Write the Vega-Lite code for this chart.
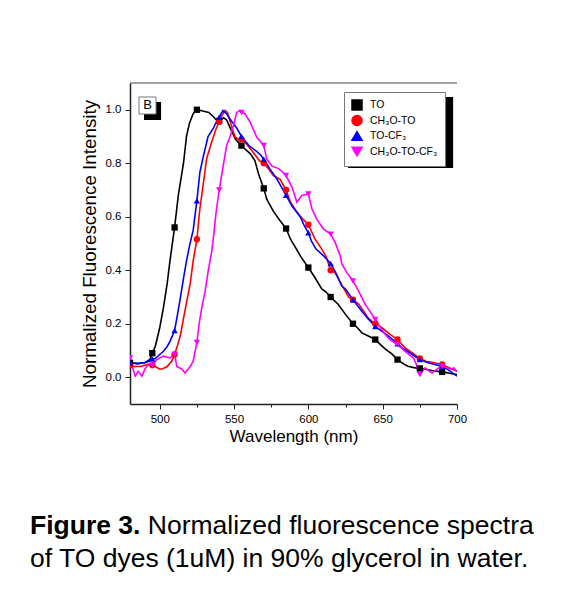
{
  "$schema": "https://vega.github.io/schema/vega-lite/v6.json",
  "width": 327,
  "height": 321,
  "padding": {"left": 30, "top": 82, "right": 5, "bottom": 5},
  "background": "white",
  "title": {
    "text": "Figure 3.",
    "subtitle": ["\u200b\u00a0\u00a0\u00a0\u00a0\u00a0\u00a0\u00a0\u00a0\u00a0\u00a0\u00a0\u00a0\u00a0\u00a0\u00a0\u00a0Normalized fluorescence spectra", "of TO dyes (1uM) in 90% glycerol in water."],
    "orient": "bottom",
    "anchor": "start",
    "frame": "group",
    "dx": -100,
    "offset": 68,
    "font": "Liberation Sans",
    "fontSize": 26.5,
    "fontWeight": "bold",
    "color": "black",
    "subtitleFont": "Liberation Sans",
    "subtitleFontSize": 26.5,
    "subtitleFontWeight": "normal",
    "subtitleColor": "black",
    "subtitlePadding": -26.5,
    "subtitleLineHeight": 33
  },
  "config": {
    "view": {"stroke": null},
    "font": "Liberation Sans"
  },
  "datasets": {
    "spectra": [
      {"series": "TO", "wl": 480, "val": 0.054}, {"series": "TO", "wl": 485, "val": 0.052}, {"series": "TO", "wl": 490, "val": 0.054}, {"series": "TO", "wl": 493, "val": 0.06}, {"series": "TO", "wl": 495, "val": 0.09}, {"series": "TO", "wl": 497, "val": 0.115}, {"series": "TO", "wl": 500, "val": 0.185}, {"series": "TO", "wl": 502.5, "val": 0.26}, {"series": "TO", "wl": 505, "val": 0.35}, {"series": "TO", "wl": 507, "val": 0.44}, {"series": "TO", "wl": 510, "val": 0.56}, {"series": "TO", "wl": 512.5, "val": 0.68}, {"series": "TO", "wl": 516, "val": 0.8}, {"series": "TO", "wl": 518, "val": 0.9}, {"series": "TO", "wl": 520, "val": 0.95}, {"series": "TO", "wl": 522.5, "val": 0.985}, {"series": "TO", "wl": 525, "val": 1.0}, {"series": "TO", "wl": 529, "val": 0.995}, {"series": "TO", "wl": 533, "val": 0.99}, {"series": "TO", "wl": 536, "val": 0.975}, {"series": "TO", "wl": 538, "val": 0.962}, {"series": "TO", "wl": 540, "val": 0.958}, {"series": "TO", "wl": 543, "val": 0.97}, {"series": "TO", "wl": 545, "val": 0.962}, {"series": "TO", "wl": 548, "val": 0.925}, {"series": "TO", "wl": 551, "val": 0.89}, {"series": "TO", "wl": 555, "val": 0.866}, {"series": "TO", "wl": 558, "val": 0.85}, {"series": "TO", "wl": 561, "val": 0.835}, {"series": "TO", "wl": 564, "val": 0.81}, {"series": "TO", "wl": 566.5, "val": 0.76}, {"series": "TO", "wl": 570, "val": 0.706}, {"series": "TO", "wl": 572, "val": 0.666}, {"series": "TO", "wl": 576.5, "val": 0.62}, {"series": "TO", "wl": 581, "val": 0.585}, {"series": "TO", "wl": 585, "val": 0.556}, {"series": "TO", "wl": 588, "val": 0.516}, {"series": "TO", "wl": 592, "val": 0.479}, {"series": "TO", "wl": 595, "val": 0.45}, {"series": "TO", "wl": 600, "val": 0.41}, {"series": "TO", "wl": 604.5, "val": 0.372}, {"series": "TO", "wl": 609, "val": 0.33}, {"series": "TO", "wl": 612, "val": 0.318}, {"series": "TO", "wl": 615, "val": 0.3}, {"series": "TO", "wl": 620, "val": 0.273}, {"series": "TO", "wl": 625, "val": 0.235}, {"series": "TO", "wl": 630, "val": 0.2}, {"series": "TO", "wl": 633, "val": 0.185}, {"series": "TO", "wl": 636, "val": 0.166}, {"series": "TO", "wl": 640, "val": 0.155}, {"series": "TO", "wl": 645, "val": 0.141}, {"series": "TO", "wl": 648, "val": 0.125}, {"series": "TO", "wl": 652, "val": 0.104}, {"series": "TO", "wl": 656, "val": 0.088}, {"series": "TO", "wl": 660, "val": 0.066}, {"series": "TO", "wl": 664, "val": 0.05}, {"series": "TO", "wl": 667, "val": 0.041}, {"series": "TO", "wl": 671, "val": 0.036}, {"series": "TO", "wl": 675, "val": 0.033}, {"series": "TO", "wl": 679, "val": 0.03}, {"series": "TO", "wl": 683, "val": 0.025}, {"series": "TO", "wl": 687, "val": 0.022}, {"series": "TO", "wl": 690, "val": 0.02}, {"series": "TO", "wl": 695, "val": 0.015}, {"series": "TO", "wl": 700, "val": 0.01},

      {"series": "CH₃O-TO", "wl": 480, "val": 0.045}, {"series": "CH₃O-TO", "wl": 483, "val": 0.04}, {"series": "CH₃O-TO", "wl": 487, "val": 0.04}, {"series": "CH₃O-TO", "wl": 492, "val": 0.048}, {"series": "CH₃O-TO", "wl": 495, "val": 0.045}, {"series": "CH₃O-TO", "wl": 497, "val": 0.04}, {"series": "CH₃O-TO", "wl": 500, "val": 0.03}, {"series": "CH₃O-TO", "wl": 502, "val": 0.032}, {"series": "CH₃O-TO", "wl": 505, "val": 0.04}, {"series": "CH₃O-TO", "wl": 508, "val": 0.06}, {"series": "CH₃O-TO", "wl": 510, "val": 0.085}, {"series": "CH₃O-TO", "wl": 512, "val": 0.12}, {"series": "CH₃O-TO", "wl": 514, "val": 0.16}, {"series": "CH₃O-TO", "wl": 517, "val": 0.25}, {"series": "CH₃O-TO", "wl": 520.5, "val": 0.35}, {"series": "CH₃O-TO", "wl": 522.5, "val": 0.435}, {"series": "CH₃O-TO", "wl": 525, "val": 0.516}, {"series": "CH₃O-TO", "wl": 527, "val": 0.63}, {"series": "CH₃O-TO", "wl": 529.5, "val": 0.73}, {"series": "CH₃O-TO", "wl": 531.5, "val": 0.816}, {"series": "CH₃O-TO", "wl": 535, "val": 0.88}, {"series": "CH₃O-TO", "wl": 538, "val": 0.93}, {"series": "CH₃O-TO", "wl": 540, "val": 0.955}, {"series": "CH₃O-TO", "wl": 542, "val": 0.98}, {"series": "CH₃O-TO", "wl": 544, "val": 0.997}, {"series": "CH₃O-TO", "wl": 545.5, "val": 0.99}, {"series": "CH₃O-TO", "wl": 547.5, "val": 0.954}, {"series": "CH₃O-TO", "wl": 550.5, "val": 0.9}, {"series": "CH₃O-TO", "wl": 553, "val": 0.888}, {"series": "CH₃O-TO", "wl": 555, "val": 0.89}, {"series": "CH₃O-TO", "wl": 558, "val": 0.875}, {"series": "CH₃O-TO", "wl": 563, "val": 0.84}, {"series": "CH₃O-TO", "wl": 567, "val": 0.81}, {"series": "CH₃O-TO", "wl": 570, "val": 0.8}, {"series": "CH₃O-TO", "wl": 573, "val": 0.78}, {"series": "CH₃O-TO", "wl": 576.5, "val": 0.754}, {"series": "CH₃O-TO", "wl": 581, "val": 0.74}, {"series": "CH₃O-TO", "wl": 585, "val": 0.7}, {"series": "CH₃O-TO", "wl": 588, "val": 0.654}, {"series": "CH₃O-TO", "wl": 592, "val": 0.62}, {"series": "CH₃O-TO", "wl": 596.5, "val": 0.59}, {"series": "CH₃O-TO", "wl": 600, "val": 0.57}, {"series": "CH₃O-TO", "wl": 604.5, "val": 0.516}, {"series": "CH₃O-TO", "wl": 609, "val": 0.479}, {"series": "CH₃O-TO", "wl": 612, "val": 0.45}, {"series": "CH₃O-TO", "wl": 615, "val": 0.4}, {"series": "CH₃O-TO", "wl": 618, "val": 0.39}, {"series": "CH₃O-TO", "wl": 622, "val": 0.35}, {"series": "CH₃O-TO", "wl": 627, "val": 0.3}, {"series": "CH₃O-TO", "wl": 630, "val": 0.29}, {"series": "CH₃O-TO", "wl": 634, "val": 0.273}, {"series": "CH₃O-TO", "wl": 640.5, "val": 0.22}, {"series": "CH₃O-TO", "wl": 645, "val": 0.2}, {"series": "CH₃O-TO", "wl": 649.5, "val": 0.185}, {"series": "CH₃O-TO", "wl": 655, "val": 0.16}, {"series": "CH₃O-TO", "wl": 660, "val": 0.141}, {"series": "CH₃O-TO", "wl": 665, "val": 0.11}, {"series": "CH₃O-TO", "wl": 670, "val": 0.091}, {"series": "CH₃O-TO", "wl": 675, "val": 0.07}, {"series": "CH₃O-TO", "wl": 679, "val": 0.06}, {"series": "CH₃O-TO", "wl": 684, "val": 0.055}, {"series": "CH₃O-TO", "wl": 690, "val": 0.048}, {"series": "CH₃O-TO", "wl": 695, "val": 0.035}, {"series": "CH₃O-TO", "wl": 700, "val": 0.022},

      {"series": "TO-CF₃", "wl": 480, "val": 0.054}, {"series": "TO-CF₃", "wl": 485, "val": 0.05}, {"series": "TO-CF₃", "wl": 490, "val": 0.055}, {"series": "TO-CF₃", "wl": 493.5, "val": 0.067}, {"series": "TO-CF₃", "wl": 495, "val": 0.068}, {"series": "TO-CF₃", "wl": 497, "val": 0.07}, {"series": "TO-CF₃", "wl": 500, "val": 0.085}, {"series": "TO-CF₃", "wl": 502.5, "val": 0.097}, {"series": "TO-CF₃", "wl": 505, "val": 0.115}, {"series": "TO-CF₃", "wl": 507, "val": 0.135}, {"series": "TO-CF₃", "wl": 510, "val": 0.175}, {"series": "TO-CF₃", "wl": 511.5, "val": 0.22}, {"series": "TO-CF₃", "wl": 513.5, "val": 0.285}, {"series": "TO-CF₃", "wl": 516, "val": 0.37}, {"series": "TO-CF₃", "wl": 518, "val": 0.435}, {"series": "TO-CF₃", "wl": 520, "val": 0.49}, {"series": "TO-CF₃", "wl": 522.5, "val": 0.55}, {"series": "TO-CF₃", "wl": 525, "val": 0.66}, {"series": "TO-CF₃", "wl": 527, "val": 0.766}, {"series": "TO-CF₃", "wl": 529.5, "val": 0.83}, {"series": "TO-CF₃", "wl": 532.5, "val": 0.9}, {"series": "TO-CF₃", "wl": 536, "val": 0.93}, {"series": "TO-CF₃", "wl": 539.5, "val": 0.97}, {"series": "TO-CF₃", "wl": 540, "val": 0.972}, {"series": "TO-CF₃", "wl": 542.5, "val": 0.997}, {"series": "TO-CF₃", "wl": 545, "val": 0.985}, {"series": "TO-CF₃", "wl": 548, "val": 0.96}, {"series": "TO-CF₃", "wl": 552, "val": 0.93}, {"series": "TO-CF₃", "wl": 555, "val": 0.9}, {"series": "TO-CF₃", "wl": 560, "val": 0.866}, {"series": "TO-CF₃", "wl": 565, "val": 0.845}, {"series": "TO-CF₃", "wl": 568, "val": 0.83}, {"series": "TO-CF₃", "wl": 570, "val": 0.815}, {"series": "TO-CF₃", "wl": 574, "val": 0.78}, {"series": "TO-CF₃", "wl": 579, "val": 0.74}, {"series": "TO-CF₃", "wl": 582, "val": 0.71}, {"series": "TO-CF₃", "wl": 585, "val": 0.68}, {"series": "TO-CF₃", "wl": 589, "val": 0.64}, {"series": "TO-CF₃", "wl": 594.5, "val": 0.6}, {"series": "TO-CF₃", "wl": 597, "val": 0.57}, {"series": "TO-CF₃", "wl": 600, "val": 0.54}, {"series": "TO-CF₃", "wl": 602, "val": 0.51}, {"series": "TO-CF₃", "wl": 605, "val": 0.48}, {"series": "TO-CF₃", "wl": 610, "val": 0.455}, {"series": "TO-CF₃", "wl": 615, "val": 0.425}, {"series": "TO-CF₃", "wl": 619, "val": 0.385}, {"series": "TO-CF₃", "wl": 622.5, "val": 0.34}, {"series": "TO-CF₃", "wl": 625, "val": 0.33}, {"series": "TO-CF₃", "wl": 630, "val": 0.29}, {"series": "TO-CF₃", "wl": 636, "val": 0.247}, {"series": "TO-CF₃", "wl": 640, "val": 0.22}, {"series": "TO-CF₃", "wl": 645, "val": 0.19}, {"series": "TO-CF₃", "wl": 650, "val": 0.17}, {"series": "TO-CF₃", "wl": 654, "val": 0.154}, {"series": "TO-CF₃", "wl": 660, "val": 0.125}, {"series": "TO-CF₃", "wl": 663, "val": 0.11}, {"series": "TO-CF₃", "wl": 670, "val": 0.085}, {"series": "TO-CF₃", "wl": 675, "val": 0.066}, {"series": "TO-CF₃", "wl": 680, "val": 0.055}, {"series": "TO-CF₃", "wl": 685, "val": 0.048}, {"series": "TO-CF₃", "wl": 690, "val": 0.04}, {"series": "TO-CF₃", "wl": 692, "val": 0.035}, {"series": "TO-CF₃", "wl": 696, "val": 0.02}, {"series": "TO-CF₃", "wl": 700, "val": 0.004},

      {"series": "CH₃O-TO-CF₃", "wl": 480, "val": 0.072}, {"series": "CH₃O-TO-CF₃", "wl": 481.5, "val": 0.04}, {"series": "CH₃O-TO-CF₃", "wl": 483.5, "val": 0.004}, {"series": "CH₃O-TO-CF₃", "wl": 485.5, "val": 0.022}, {"series": "CH₃O-TO-CF₃", "wl": 488, "val": 0.004}, {"series": "CH₃O-TO-CF₃", "wl": 490, "val": 0.03}, {"series": "CH₃O-TO-CF₃", "wl": 492.3, "val": 0.048}, {"series": "CH₃O-TO-CF₃", "wl": 495, "val": 0.045}, {"series": "CH₃O-TO-CF₃", "wl": 498, "val": 0.066}, {"series": "CH₃O-TO-CF₃", "wl": 502.5, "val": 0.079}, {"series": "CH₃O-TO-CF₃", "wl": 507, "val": 0.072}, {"series": "CH₃O-TO-CF₃", "wl": 510, "val": 0.085}, {"series": "CH₃O-TO-CF₃", "wl": 511.5, "val": 0.04}, {"series": "CH₃O-TO-CF₃", "wl": 515, "val": 0.03}, {"series": "CH₃O-TO-CF₃", "wl": 517, "val": 0.016}, {"series": "CH₃O-TO-CF₃", "wl": 520.5, "val": 0.04}, {"series": "CH₃O-TO-CF₃", "wl": 522.5, "val": 0.06}, {"series": "CH₃O-TO-CF₃", "wl": 525, "val": 0.13}, {"series": "CH₃O-TO-CF₃", "wl": 526.5, "val": 0.2}, {"series": "CH₃O-TO-CF₃", "wl": 528.3, "val": 0.26}, {"series": "CH₃O-TO-CF₃", "wl": 530.5, "val": 0.32}, {"series": "CH₃O-TO-CF₃", "wl": 532.7, "val": 0.4}, {"series": "CH₃O-TO-CF₃", "wl": 535, "val": 0.47}, {"series": "CH₃O-TO-CF₃", "wl": 536, "val": 0.516}, {"series": "CH₃O-TO-CF₃", "wl": 538, "val": 0.62}, {"series": "CH₃O-TO-CF₃", "wl": 540, "val": 0.7}, {"series": "CH₃O-TO-CF₃", "wl": 543, "val": 0.8}, {"series": "CH₃O-TO-CF₃", "wl": 545, "val": 0.866}, {"series": "CH₃O-TO-CF₃", "wl": 547.3, "val": 0.9}, {"series": "CH₃O-TO-CF₃", "wl": 549.6, "val": 0.94}, {"series": "CH₃O-TO-CF₃", "wl": 551.8, "val": 0.99}, {"series": "CH₃O-TO-CF₃", "wl": 554, "val": 0.997}, {"series": "CH₃O-TO-CF₃", "wl": 555, "val": 0.99}, {"series": "CH₃O-TO-CF₃", "wl": 557.4, "val": 0.985}, {"series": "CH₃O-TO-CF₃", "wl": 560.8, "val": 0.954}, {"series": "CH₃O-TO-CF₃", "wl": 565.3, "val": 0.897}, {"series": "CH₃O-TO-CF₃", "wl": 570, "val": 0.866}, {"series": "CH₃O-TO-CF₃", "wl": 572, "val": 0.816}, {"series": "CH₃O-TO-CF₃", "wl": 575.4, "val": 0.79}, {"series": "CH₃O-TO-CF₃", "wl": 580, "val": 0.78}, {"series": "CH₃O-TO-CF₃", "wl": 582, "val": 0.77}, {"series": "CH₃O-TO-CF₃", "wl": 585, "val": 0.754}, {"series": "CH₃O-TO-CF₃", "wl": 589, "val": 0.71}, {"series": "CH₃O-TO-CF₃", "wl": 592.3, "val": 0.654}, {"series": "CH₃O-TO-CF₃", "wl": 595.6, "val": 0.68}, {"series": "CH₃O-TO-CF₃", "wl": 600, "val": 0.685}, {"series": "CH₃O-TO-CF₃", "wl": 602.4, "val": 0.63}, {"series": "CH₃O-TO-CF₃", "wl": 605.7, "val": 0.59}, {"series": "CH₃O-TO-CF₃", "wl": 610.2, "val": 0.554}, {"series": "CH₃O-TO-CF₃", "wl": 615, "val": 0.535}, {"series": "CH₃O-TO-CF₃", "wl": 618, "val": 0.504}, {"series": "CH₃O-TO-CF₃", "wl": 621.4, "val": 0.454}, {"series": "CH₃O-TO-CF₃", "wl": 622.6, "val": 0.423}, {"series": "CH₃O-TO-CF₃", "wl": 626, "val": 0.39}, {"series": "CH₃O-TO-CF₃", "wl": 630, "val": 0.36}, {"series": "CH₃O-TO-CF₃", "wl": 633.8, "val": 0.322}, {"series": "CH₃O-TO-CF₃", "wl": 638.2, "val": 0.273}, {"series": "CH₃O-TO-CF₃", "wl": 641, "val": 0.25}, {"series": "CH₃O-TO-CF₃", "wl": 645, "val": 0.216}, {"series": "CH₃O-TO-CF₃", "wl": 648, "val": 0.19}, {"series": "CH₃O-TO-CF₃", "wl": 651.7, "val": 0.16}, {"series": "CH₃O-TO-CF₃", "wl": 655, "val": 0.14}, {"series": "CH₃O-TO-CF₃", "wl": 660, "val": 0.122}, {"series": "CH₃O-TO-CF₃", "wl": 666.3, "val": 0.091}, {"series": "CH₃O-TO-CF₃", "wl": 670.8, "val": 0.072}, {"series": "CH₃O-TO-CF₃", "wl": 672.5, "val": 0.05}, {"series": "CH₃O-TO-CF₃", "wl": 674.1, "val": 0.022}, {"series": "CH₃O-TO-CF₃", "wl": 675, "val": 0.01}, {"series": "CH₃O-TO-CF₃", "wl": 678.6, "val": 0.035}, {"series": "CH₃O-TO-CF₃", "wl": 681, "val": 0.025}, {"series": "CH₃O-TO-CF₃", "wl": 683.2, "val": 0.016}, {"series": "CH₃O-TO-CF₃", "wl": 687.6, "val": 0.035}, {"series": "CH₃O-TO-CF₃", "wl": 690, "val": 0.041}, {"series": "CH₃O-TO-CF₃", "wl": 692, "val": 0.038}, {"series": "CH₃O-TO-CF₃", "wl": 695.5, "val": 0.03}, {"series": "CH₃O-TO-CF₃", "wl": 698, "val": 0.035}, {"series": "CH₃O-TO-CF₃", "wl": 700, "val": 0.022}
    ]
  },
  "layer": [
    {
      "data": {"name": "spectra"},
      "mark": {"type": "line", "strokeWidth": 1.6, "clip": true},
      "encoding": {
        "x": {
          "field": "wl", "type": "quantitative",
          "scale": {"domain": [480, 700], "nice": false, "zero": false},
          "axis": {
            "values": [500, 525, 550, 575, 600, 625, 650, 675, 700],
            "labelExpr": "datum.value % 50 === 0 ? datum.label : ''",
            "tickSize": {"condition": {"test": "datum.value % 50 === 0", "value": 5}, "value": 3},
            "title": "Wavelength (nm)",
            "grid": false,
            "labelFont": "Liberation Sans", "labelFontSize": 11.5, "labelPadding": 4, "labelColor": "black",
            "labelFlush": false, "labelOverlap": false,
            "titleFont": "Liberation Sans", "titleFontSize": 17, "titleFontWeight": "normal", "titlePadding": 4, "titleColor": "black",
            "domainColor": "#222222", "domainWidth": 1.5, "tickColor": "#222222", "tickWidth": 1
          }
        },
        "y": {
          "field": "val", "type": "quantitative",
          "scale": {"domain": [-0.1, 1.1], "nice": false, "zero": false},
          "axis": {
            "values": [0, 0.1, 0.2, 0.3, 0.4, 0.5, 0.6, 0.7, 0.8, 0.9, 1.0],
            "labelExpr": "(datum.value * 10 % 2 < 0.5 || datum.value * 10 % 2 > 1.5) ? format(datum.value, '.1f') : ''",
            "tickSize": {"condition": {"test": "datum.value * 10 % 2 < 0.5 || datum.value * 10 % 2 > 1.5", "value": 5}, "value": 3},
            "title": "Normalized Fluorescence Intensity",
            "grid": false,
            "labelFont": "Liberation Sans", "labelFontSize": 11.5, "labelPadding": 4, "labelColor": "black",
            "labelFlush": false, "labelOverlap": false,
            "titleFont": "Liberation Sans", "titleFontSize": 18.8, "titleFontWeight": "normal", "titlePadding": 6, "titleColor": "black",
            "domainColor": "#222222", "domainWidth": 1.5, "tickColor": "#222222", "tickWidth": 1
          }
        },
        "color": {
          "field": "series", "type": "nominal",
          "scale": {"domain": ["TO", "CH₃O-TO", "TO-CF₃", "CH₃O-TO-CF₃"], "range": ["#000000", "#ff0000", "#0000ff", "#ff00ff"]}
        }
      }
    },
    {
      "data": {"name": "spectra"},
      "transform": [{"filter": "datum.wl % 15 === 0"}],
      "mark": {"type": "point", "filled": true, "size": 40, "opacity": 1, "clip": true},
      "encoding": {
        "x": {"field": "wl", "type": "quantitative"},
        "y": {"field": "val", "type": "quantitative"},
        "color": {
          "field": "series", "type": "nominal",
          "legend": {
            "orient": "none", "legendX": 214, "legendY": 9, "title": null,
            "symbolSize": 100, "symbolStrokeWidth": 1.5, "labelFont": "Liberation Sans", "labelFontSize": 10.5, "labelColor": "black",
            "labelOffset": 7, "rowPadding": -0.5, "padding": 7, "strokeColor": "#777777", "fillColor": "white"
          }
        },
        "shape": {
          "field": "series", "type": "nominal",
          "scale": {"domain": ["TO", "CH₃O-TO", "TO-CF₃", "CH₃O-TO-CF₃"], "range": ["square", "circle", "triangle-up", "triangle-down"]},
          "legend": {
            "orient": "none", "legendX": 214, "legendY": 9, "title": null,
            "symbolSize": 100, "symbolStrokeWidth": 1.5, "labelFont": "Liberation Sans", "labelFontSize": 10.5, "labelColor": "black",
            "labelOffset": 7, "rowPadding": -0.5, "padding": 7, "strokeColor": "#777777", "fillColor": "white"
          }
        }
      }
    },
    {
      "data": {"values": [{}]},
      "mark": {"type": "rule", "color": "#444444", "strokeWidth": 1},
      "encoding": {"y": {"datum": 1.1, "type": "quantitative"}}
    },
    {
      "data": {"values": [{}]},
      "mark": {"type": "rect", "color": "black"},
      "encoding": {
        "x": {"datum": 626.7, "type": "quantitative"}, "x2": {"datum": 697.4},
        "y": {"datum": 1.0477, "type": "quantitative"}, "y2": {"datum": 0.782}
      }
    },
    {
      "data": {"values": [{}]},
      "mark": {"type": "rect", "color": "black"},
      "encoding": {
        "x": {"datum": 489.4, "type": "quantitative"}, "x2": {"datum": 500.9},
        "y": {"datum": 1.029, "type": "quantitative"}, "y2": {"datum": 0.9617}
      }
    },
    {
      "data": {"values": [{}]},
      "mark": {"type": "rect", "fill": "white", "stroke": "#777777", "strokeWidth": 1},
      "encoding": {
        "x": {"datum": 486.06, "type": "quantitative"}, "x2": {"datum": 497.5},
        "y": {"datum": 1.0477, "type": "quantitative"}, "y2": {"datum": 0.984}
      }
    },
    {
      "data": {"values": [{}]},
      "mark": {"type": "text", "text": "B", "font": "Liberation Sans", "fontSize": 13, "color": "black", "align": "center", "baseline": "middle"},
      "encoding": {
        "x": {"datum": 491.8, "type": "quantitative"},
        "y": {"datum": 1.016, "type": "quantitative"}
      }
    }
  ]
}
